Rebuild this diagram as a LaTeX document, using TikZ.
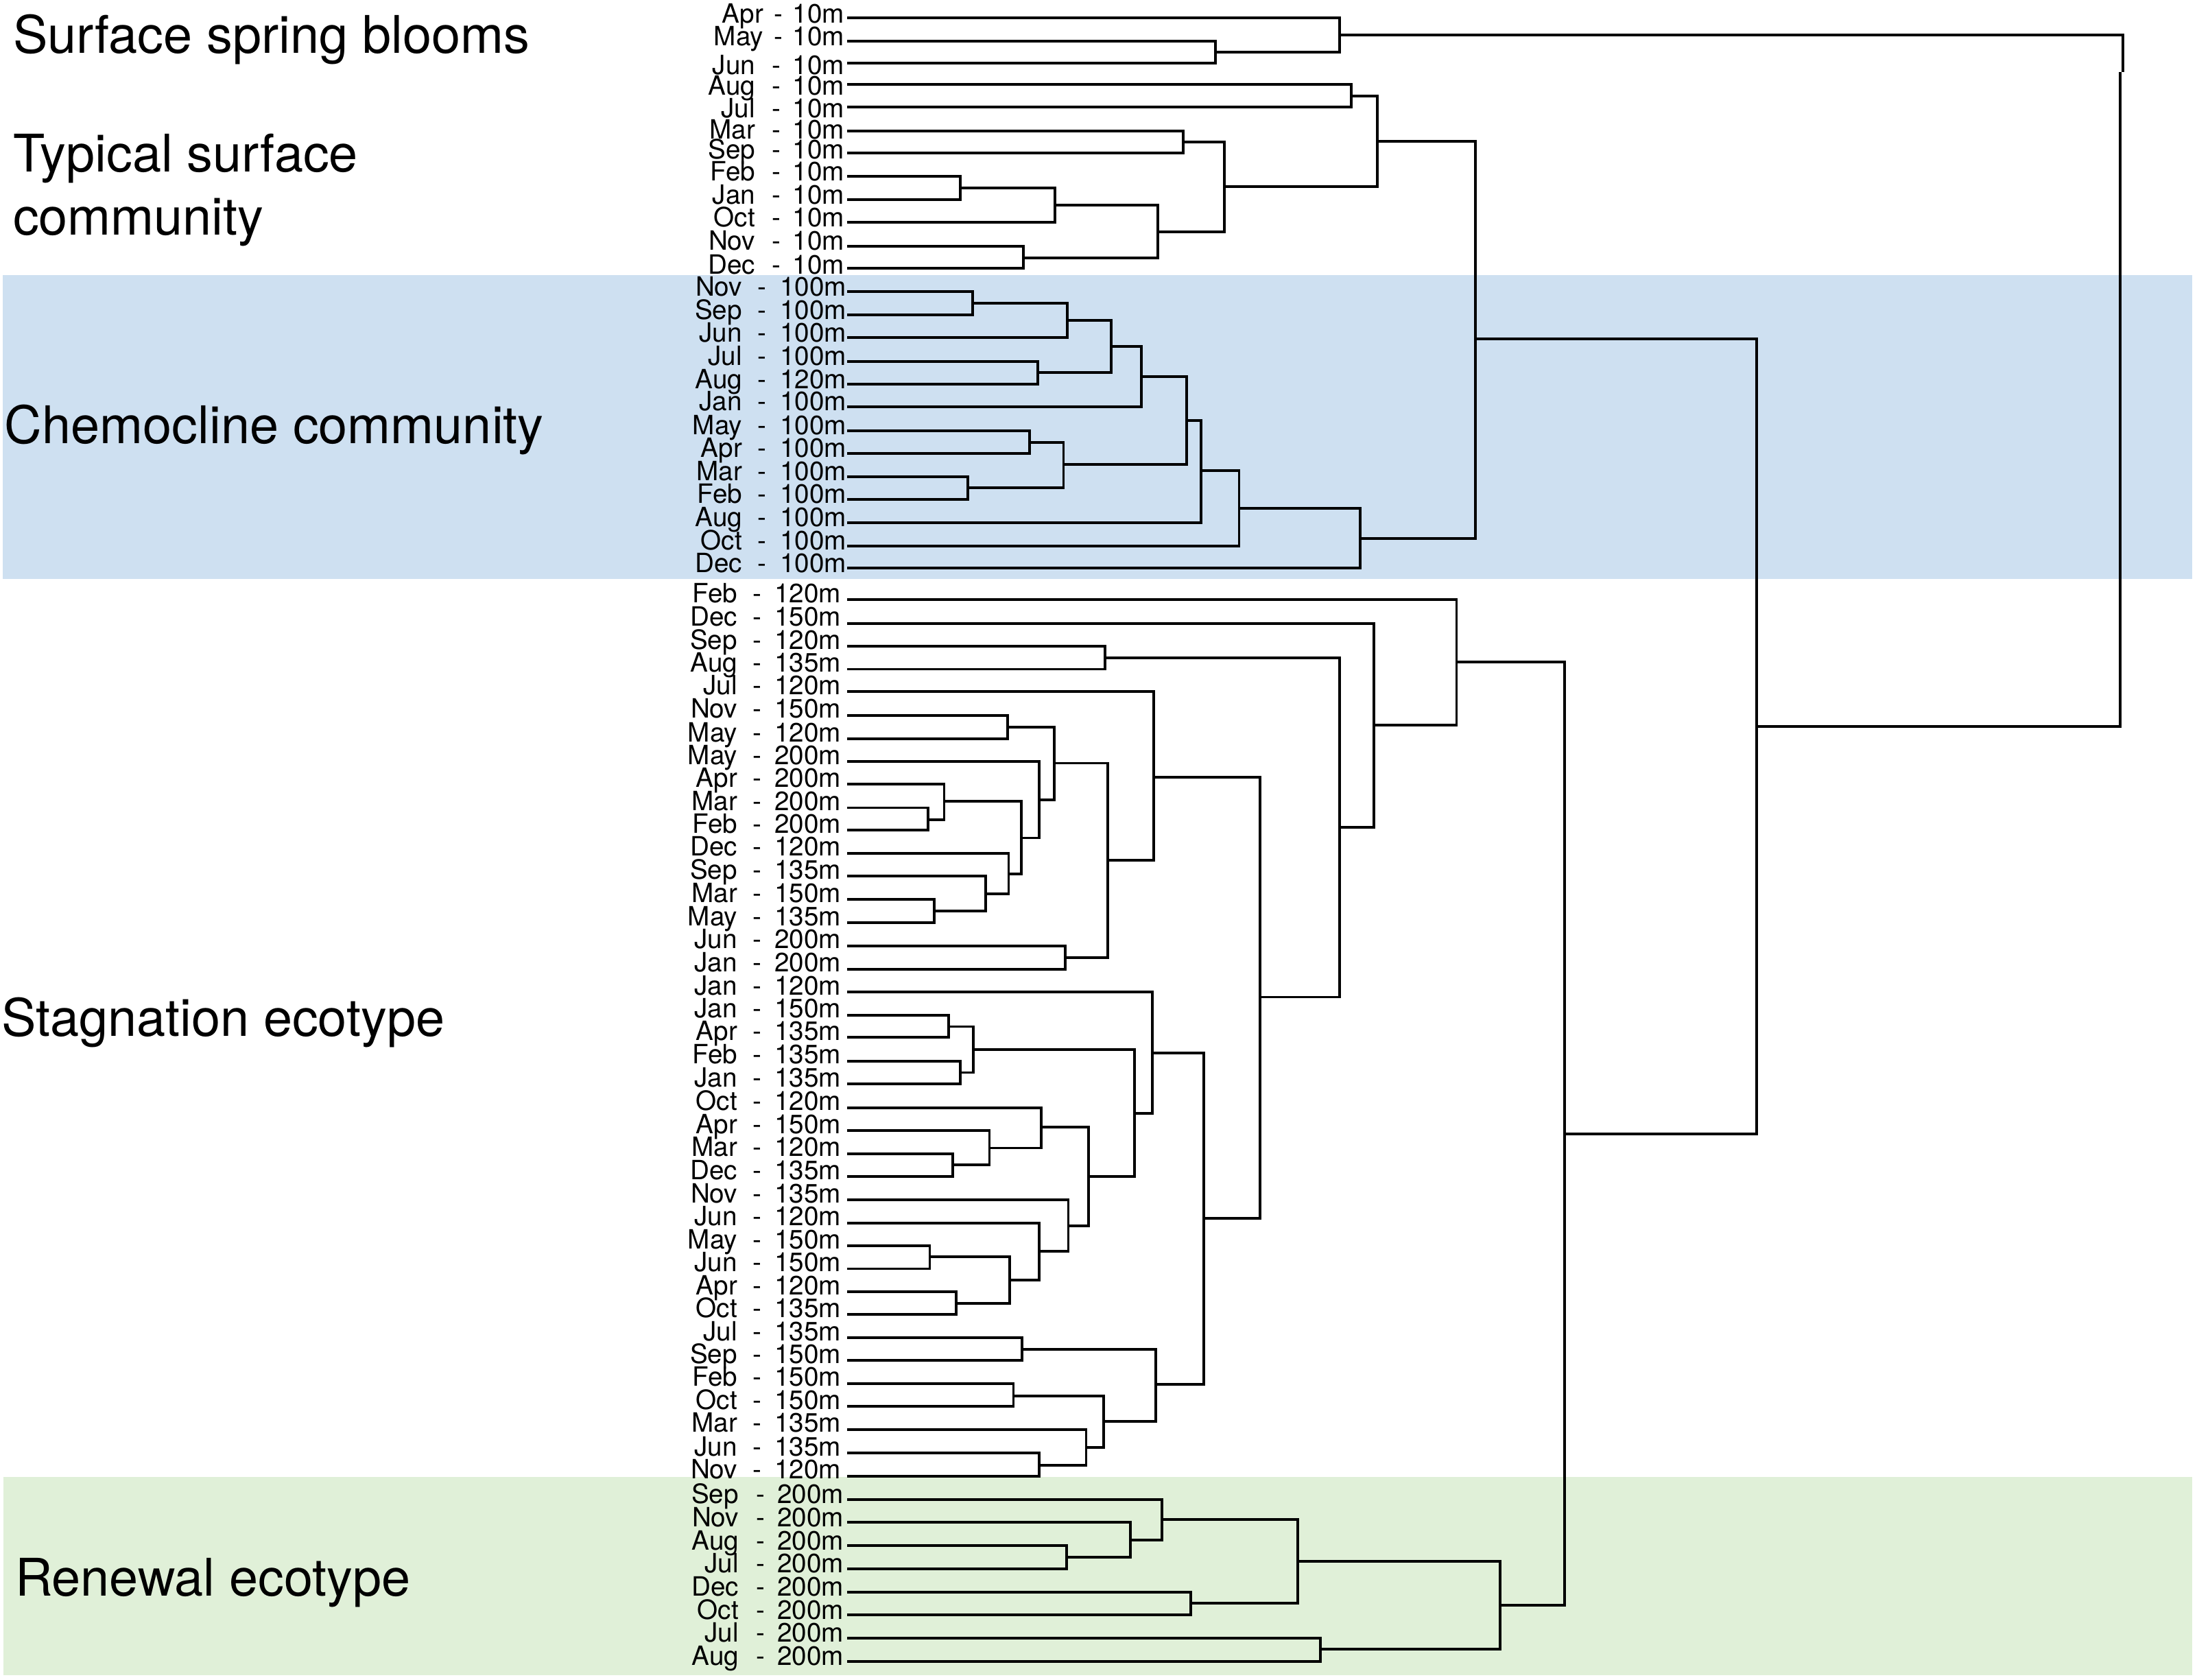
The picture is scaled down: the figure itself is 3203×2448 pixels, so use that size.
\documentclass[tikz,border=0pt]{standalone}
\usepackage{fontspec}
\setmainfont{TeX Gyre Heros}
\definecolor{chemo}{RGB}{206,224,241}
\definecolor{renew}{RGB}{224,240,216}
\tikzset{
  tree/.style={line width=1.1pt, draw=black},
  lab/.style={inner sep=0pt, outer sep=0pt, font=\fontsize{11}{13}\selectfont},
  grp/.style={inner sep=0pt, outer sep=0pt, anchor=base west, font=\fontsize{21.5}{26}\selectfont},
}
\newcommand\brk[3]{\draw[tree] (#2) -| (#1) |- (#3);}
% #1 index, #2 month, #3 depth, #4 line y, #5 month right, #6 dash centre, #7 depth right, #8 text baseline
\newcommand\leaflab[8]{%
  \coordinate (l#1) at (1235,#4);
  \node[lab, anchor=base east] (m#1) at (#5,#8) {#2};
  \node[lab, anchor=base] (s#1) at (#6,#8) {-};
  \node[lab, anchor=base east] (d#1) at (#7,#8) {#3};
}
\begin{document}
\begin{tikzpicture}[x=0.01cm, y=-0.01cm]
\useasboundingbox (0,0) rectangle (3203,2448);
% bands
\fill[chemo] (4,400.7) rectangle (3196,843.5);
\fill[renew] (5,2153) rectangle (3196,2441.7);
% group labels
\node[grp] (ssbl) at (19,77.3) {Surface spring blooms};
\node[grp] (tsc1) at (20,250.7) {Typical surface};
\node[grp] (tsc2) at (19,342.3) {community};
\node[grp] (chemol) at (7,646) {Chemocline community};
\node[grp] (stagl) at (2,1510) {Stagnation ecotype};
\node[grp] (renl) at (22,2326) {Renewal ecotype};
% leaves
\foreach \i/\mo/\de/\y/\b in {0/Apr/10m/25.7/33.3, 1/May/10m/60/66.7}
  {\leaflab{\i}{\mo}{\de}{\y}{1113}{1135}{1231}{\b}}
\foreach \i/\mo/\de/\y/\b in {2/Jun/10m/92.3/108, 3/Aug/10m/123.3/138, 4/Jul/10m/155.7/171, 5/Mar/10m/191/202.7, 6/Sep/10m/223.3/231.7, 7/Feb/10m/257.3/263.3, 8/Jan/10m/291/297.7, 9/Oct/10m/324/330, 10/Nov/10m/359/364.3, 11/Dec/10m/390.7/399}
  {\leaflab{\i}{\mo}{\de}{\y}{1101}{1132}{1231}{\b}}
\foreach \i/\mo/\de/\y in {12/Nov/100m/425, 13/Sep/100m/459, 14/Jun/100m/492.3, 15/Jul/100m/526.7, 16/Aug/120m/560, 17/Jan/100m/592.7, 18/May/100m/627.7, 19/Apr/100m/660.7, 20/Mar/100m/694.7, 21/Feb/100m/727.7, 22/Aug/100m/761.7, 23/Oct/100m/795.7, 24/Dec/100m/828.3}
  {\leaflab{\i}{\mo}{\de}{\y}{1082}{1111}{1234}{\y+6}}
\foreach \i/\mo/\de/\y in {25/Feb/120m/874.4, 26/Dec/150m/908.9, 27/Sep/120m/942.2, 28/Aug/135m/975.5, 29/Jul/120m/1008.4, 30/Nov/150m/1042.8, 31/May/120m/1077.2, 32/May/200m/1110.2, 33/Apr/200m/1143.4, 34/Mar/200m/1177.5, 35/Feb/200m/1210.4, 36/Dec/120m/1243.7, 37/Sep/135m/1277.4, 38/Mar/150m/1311.4, 39/May/135m/1345.1, 40/Jun/200m/1378.8, 41/Jan/200m/1412.8, 42/Jan/120m/1446.3, 43/Jan/150m/1479.8, 44/Apr/135m/1512.3, 45/Feb/135m/1546.8, 46/Jan/135m/1580.2, 47/Oct/120m/1614.7, 48/Apr/150m/1648.2, 49/Mar/120m/1681.6, 50/Dec/135m/1715.1, 51/Nov/135m/1749.1, 52/Jun/120m/1782.6, 53/May/150m/1816, 54/Jun/150m/1849.5, 55/Apr/120m/1883, 56/Oct/135m/1916, 57/Jul/135m/1950, 58/Sep/150m/1983.4, 59/Feb/150m/2016.9, 60/Oct/150m/2050.4, 61/Mar/135m/2083.9, 62/Jun/135m/2118.3, 63/Nov/120m/2151.8}
  {\leaflab{\i}{\mo}{\de}{\y}{1075}{1104}{1226}{\y+4}}
\foreach \i/\mo/\de/\y in {64/Sep/200m/2185.7, 65/Nov/200m/2219.3, 66/Aug/200m/2253.3, 67/Jul/200m/2286.7, 68/Dec/200m/2320.7, 69/Oct/200m/2354, 70/Jul/200m/2387.7, 71/Aug/200m/2421.7}
  {\leaflab{\i}{\mo}{\de}{\y}{1077}{1109}{1230}{\y+6}}
% internal node positions
\coordinate (nMJ) at (1772,76);
\coordinate (nSSB) at (1953,51);
\coordinate (nAJ) at (1970,140);
\coordinate (nMS) at (1725,206.7);
\coordinate (nFJ) at (1400,274);
\coordinate (nFJO) at (1538,299);
\coordinate (nND) at (1492,375.7);
\coordinate (nFJOND) at (1688,338.3);
\coordinate (nMSX) at (1785,271.7);
\coordinate (nTSC) at (2008,206);
\coordinate (cNS) at (1418,442.3);
\coordinate (cNSJ) at (1556,467.3);
\coordinate (cJA) at (1512.6,543.3);
\coordinate (cA) at (1620,505);
\coordinate (cB) at (1664,549.3);
\coordinate (cMA) at (1501,645);
\coordinate (cMF) at (1411,710.7);
\coordinate (cC) at (1550.5,676.7);
\coordinate (cD) at (1730,612.7);
\coordinate (cE) at (1751,686);
\coordinate (cF) at (1806.5,741);
\coordinate (cG) at (1982.6,785);
\coordinate (up) at (2151,494);
\coordinate (sSA) at (1610.8,959.4);
\coordinate (sNM) at (1469,1060);
\coordinate (sMF) at (1353.4,1194.7);
\coordinate (sAMF) at (1376.5,1168);
\coordinate (sMM) at (1361.8,1327.9);
\coordinate (sSMM) at (1436.8,1303);
\coordinate (sDSMM) at (1470.5,1274.3);
\coordinate (sH) at (1488.7,1221.5);
\coordinate (sI) at (1515.4,1166.4);
\coordinate (sJ) at (1537,1112.5);
\coordinate (sJJ) at (1553.3,1395.6);
\coordinate (sK) at (1615,1254);
\coordinate (sL) at (1681.7,1132.7);
\coordinate (sJA) at (1382.8,1496.5);
\coordinate (sFJ) at (1400.4,1563.5);
\coordinate (sM) at (1418.6,1530);
\coordinate (sMD) at (1389,1698.4);
\coordinate (sAMD) at (1442.5,1673.5);
\coordinate (sO) at (1518.2,1643.4);
\coordinate (sMJ) at (1355.5,1832.3);
\coordinate (sAO) at (1394,1899.7);
\coordinate (sP) at (1472,1866.3);
\coordinate (sQ) at (1515.4,1824.2);
\coordinate (sR) at (1557.5,1786.9);
\coordinate (sS) at (1587,1715.1);
\coordinate (sT) at (1653.6,1623.3);
\coordinate (sU) at (1679.6,1534.8);
\coordinate (sJS) at (1490.2,1966.7);
\coordinate (sFO) at (1477.5,2034.6);
\coordinate (sJN) at (1515.4,2136);
\coordinate (sV) at (1583.5,2110.2);
\coordinate (sW) at (1609.4,2072);
\coordinate (sX) at (1685.2,2017.9);
\coordinate (sY) at (1755.3,1776.3);
\coordinate (sZ) at (1837.4,1453.5);
\coordinate (sAA) at (1953,1205.6);
\coordinate (sBB) at (2003,1057);
\coordinate (sCC) at (2123.5,965);
\coordinate (rAJ) at (1555.4,2270);
\coordinate (rN) at (1648.2,2245);
\coordinate (rS) at (1693.8,2215);
\coordinate (rDO) at (1735.7,2337.3);
\coordinate (rA) at (1892,2275.7);
\coordinate (rJA) at (1925,2404);
\coordinate (rB) at (2186.6,2340);
\coordinate (low) at (2281,1653);
\coordinate (rest) at (2561,1059);
\coordinate (rtop) at (3095,51);
\coordinate (rkink) at (3095,105);
\coordinate (rkinkb) at (3091,105);
\coordinate (root) at (3091,1059);
% surface
\brk{nMJ}{l1}{l2}
\brk{nSSB}{l0}{nMJ}
\brk{nAJ}{l3}{l4}
\brk{nMS}{l5}{l6}
\brk{nFJ}{l7}{l8}
\brk{nFJO}{nFJ}{l9}
\brk{nND}{l10}{l11}
\brk{nFJOND}{nFJO}{nND}
\brk{nMSX}{nMS}{nFJOND}
\brk{nTSC}{nAJ}{nMSX}
% chemocline
\brk{cNS}{l12}{l13}
\brk{cNSJ}{cNS}{l14}
\brk{cJA}{l15}{l16}
\brk{cA}{cNSJ}{cJA}
\brk{cB}{cA}{l17}
\brk{cMA}{l18}{l19}
\brk{cMF}{l20}{l21}
\brk{cC}{cMA}{cMF}
\brk{cD}{cB}{cC}
\brk{cE}{cD}{l22}
\brk{cF}{cE}{l23}
\brk{cG}{cF}{l24}
\brk{up}{nTSC}{cG}
% stagnation
\brk{sSA}{l27}{l28}
\brk{sNM}{l30}{l31}
\brk{sMF}{l34}{l35}
\brk{sAMF}{l33}{sMF}
\brk{sMM}{l38}{l39}
\brk{sSMM}{l37}{sMM}
\brk{sDSMM}{l36}{sSMM}
\brk{sH}{sAMF}{sDSMM}
\brk{sI}{l32}{sH}
\brk{sJ}{sNM}{sI}
\brk{sJJ}{l40}{l41}
\brk{sK}{sJ}{sJJ}
\brk{sL}{l29}{sK}
\brk{sJA}{l43}{l44}
\brk{sFJ}{l45}{l46}
\brk{sM}{sJA}{sFJ}
\brk{sMD}{l49}{l50}
\brk{sAMD}{l48}{sMD}
\brk{sO}{l47}{sAMD}
\brk{sMJ}{l53}{l54}
\brk{sAO}{l55}{l56}
\brk{sP}{sMJ}{sAO}
\brk{sQ}{l52}{sP}
\brk{sR}{l51}{sQ}
\brk{sS}{sO}{sR}
\brk{sT}{sM}{sS}
\brk{sU}{l42}{sT}
\brk{sJS}{l57}{l58}
\brk{sFO}{l59}{l60}
\brk{sJN}{l62}{l63}
\brk{sV}{l61}{sJN}
\brk{sW}{sFO}{sV}
\brk{sX}{sJS}{sW}
\brk{sY}{sU}{sX}
\brk{sZ}{sL}{sY}
\brk{sAA}{sSA}{sZ}
\brk{sBB}{l26}{sAA}
\brk{sCC}{l25}{sBB}
% renewal
\brk{rAJ}{l66}{l67}
\brk{rN}{l65}{rAJ}
\brk{rS}{l64}{rN}
\brk{rDO}{l68}{l69}
\brk{rA}{rS}{rDO}
\brk{rJA}{l70}{l71}
\brk{rB}{rA}{rJA}
% upper levels
\brk{low}{sCC}{rB}
\brk{rest}{up}{low}
\draw[tree] (nSSB) -- (rtop) -- (rkink);
\draw[tree] (rkinkb) -- (root) -- (rest);
\end{tikzpicture}
\end{document}
